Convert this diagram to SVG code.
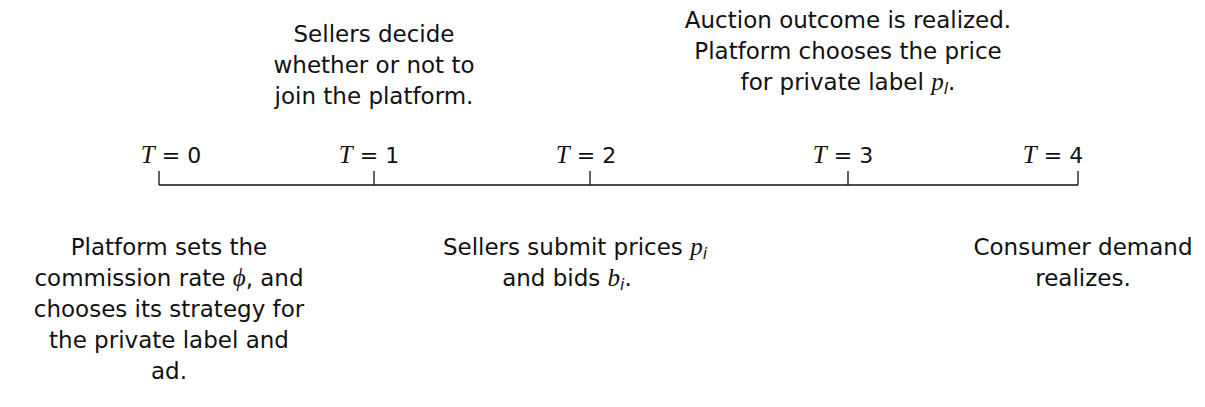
<svg xmlns="http://www.w3.org/2000/svg" width="1205" height="407" viewBox="0 0 1205 407">
<style>
.t{font-family:"DejaVu Sans","Liberation Sans",sans-serif;font-size:23px;fill:#111;text-anchor:middle}
.m{font-family:"Liberation Serif",serif;font-style:italic;font-size:25px}
.s{font-family:"DejaVu Sans",sans-serif;font-style:italic;font-size:16px}
.ln{stroke:#111;stroke-width:1.3;fill:none}
.lab{font-family:"DejaVu Sans","Liberation Sans",sans-serif;font-size:22px;fill:#111;text-anchor:middle}
</style>
<rect width="1205" height="407" fill="#fff"/>
<g id="connectors">
<path class="ln" d="M159 185H1078M159 171V185M374 171V185M590 171V185M848 171V185M1078 171V185"/>
</g>
<g id="t0"><text class="lab" x="171" y="163"><tspan class="m">T</tspan> = 0</text></g>
<g id="t1"><text class="lab" x="369" y="163"><tspan class="m">T</tspan> = 1</text></g>
<g id="t2"><text class="lab" x="586" y="163"><tspan class="m">T</tspan> = 2</text></g>
<g id="t3"><text class="lab" x="843" y="163"><tspan class="m">T</tspan> = 3</text></g>
<g id="t4"><text class="lab" x="1053" y="163"><tspan class="m">T</tspan> = 4</text></g>
<g id="n1"><text class="t" x="374"><tspan x="374" y="42">Sellers decide</tspan><tspan x="374" y="73">whether or not to</tspan><tspan x="374" y="104">join the platform.</tspan></text></g>
<g id="n3"><text class="t" x="848"><tspan x="848" y="28">Auction outcome is realized.</tspan><tspan x="848" y="59">Platform chooses the price</tspan><tspan x="848" y="90">for private label <tspan class="m">p</tspan><tspan class="s" dy="4">l</tspan><tspan dy="-4">.</tspan></tspan></text></g>
<g id="n0"><text class="t" x="169"><tspan x="169" y="255">Platform sets the</tspan><tspan x="169" y="286">commission rate <tspan class="m">ϕ</tspan>, and</tspan><tspan x="169" y="317">chooses its strategy for</tspan><tspan x="169" y="348">the private label and</tspan><tspan x="169" y="379">ad.</tspan></text></g>
<g id="n2"><text class="t" x="575"><tspan x="575" y="255">Sellers submit prices <tspan class="m">p</tspan><tspan class="s" dy="4">i</tspan></tspan><tspan x="567" y="286">and bids <tspan class="m">b</tspan><tspan class="s" dy="4">i</tspan><tspan dy="-4">.</tspan></tspan></text></g>
<g id="n4"><text class="t" x="1083"><tspan x="1083" y="255">Consumer demand</tspan><tspan x="1083" y="286">realizes.</tspan></text></g>
</svg>
